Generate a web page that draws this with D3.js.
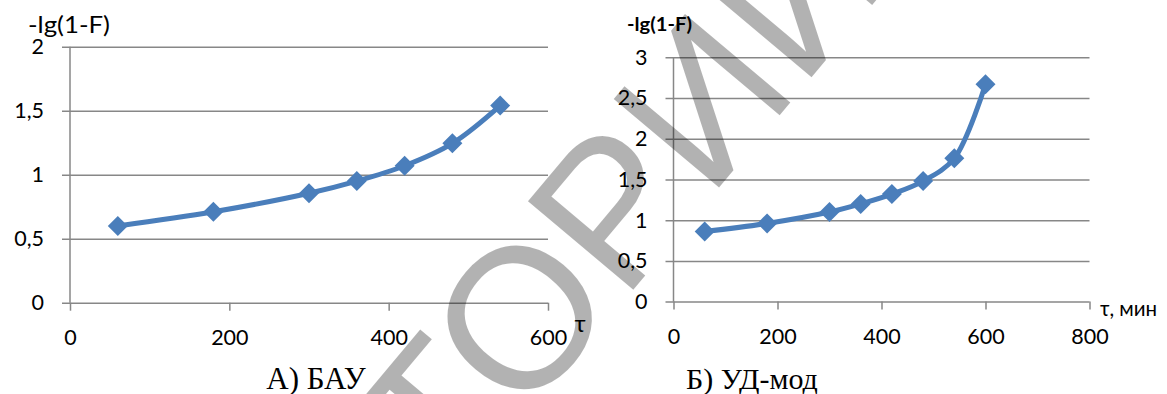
<!DOCTYPE html>
<html><head><meta charset="utf-8">
<script src="https://cdn.jsdelivr.net/npm/d3@7"></script>
<style>
html,body{margin:0;padding:0;background:#fff;}
svg{display:block;}
</style></head>
<body>
<svg id="c" width="1167" height="394"></svg>
<script>
// ---- data ----
const tauA = [60, 180, 300, 360, 420, 480, 540];
const valA = [0.60, 0.71, 0.855, 0.95, 1.07, 1.245, 1.54];
const tauB = [60, 180, 300, 360, 420, 480, 540, 600];
const valB = [0.86, 0.96, 1.10, 1.20, 1.32, 1.48, 1.76, 2.67];
const xTicksA = [0, 200, 400, 600];
const yTicksA = [0, 0.5, 1, 1.5, 2];
const xTicksB = [0, 200, 400, 600, 800];
const yTicksB = [0, 0.5, 1, 1.5, 2, 2.5, 3];
const yTitle = "-lg(1-F)";
const xTitleA = "τ";
const xTitleB = "τ, мин";
const captionA = "А) БАУ";
const captionB = "Б) УД-мод";
const watermarkPre = "РЕПОЗИ";
const watermarkPost = "ТОРИЙ";

const svg = d3.select("#c");
const SANS = "Lato, 'Open Sans', sans-serif";
const SERIF = "'Liberation Serif', 'Times New Roman', serif";
const GRID = "#878787";
const BLUE = "#4a7ebb";
const fmt = d => String(d).replace(".", ",");

function chart(o) {
  const x = d3.scaleLinear().domain(o.xd).range(o.xr);
  const y = d3.scaleLinear().domain(o.yd).range(o.yr);
  const g = svg.append("g");
  const w = o.xr[1] - o.xr[0];
  const ya = g.append("g").attr("transform", `translate(${o.xr[0]},0)`)
    .call(d3.axisLeft(y).tickValues(o.yt).tickSize(-w).tickPadding(26).tickFormat(fmt));
  ya.select(".domain").remove();
  ya.selectAll(".tick line").attr("x1", -8).attr("stroke", GRID).attr("stroke-width", 1.5);
  ya.selectAll(".tick text").attr("font-family", SANS).attr("font-size", 21.5).attr("fill", "#000");
  g.append("line").attr("x1", o.xr[0]).attr("x2", o.xr[0])
    .attr("y1", y(o.yd[0])).attr("y2", y(o.yd[1]))
    .attr("stroke", GRID).attr("stroke-width", 1.5);
  const xa = g.append("g").attr("transform", `translate(0,${y(0)})`)
    .call(d3.axisBottom(x).tickValues(o.xt).tickSize(8).tickPadding(19).tickFormat(fmt));
  xa.select(".domain").remove();
  xa.selectAll(".tick line").attr("stroke", GRID).attr("stroke-width", 1.5);
  xa.selectAll(".tick text").attr("font-family", SANS).attr("font-size", 21.5).attr("fill", "#000");
  const pts = o.xs.map((v, i) => [v, o.ys[i]]);
  g.append("path").datum(pts)
    .attr("d", d3.line().x(d => x(d[0])).y(d => y(d[1])).curve(d3.curveCatmullRom.alpha(0.5)))
    .attr("fill", "none").attr("stroke", BLUE).attr("stroke-width", 5);
  g.selectAll(".m").data(pts).join("path")
    .attr("d", d3.symbol(d3.symbolSquare, 200)())
    .attr("transform", d => `translate(${x(d[0])},${y(d[1])}) rotate(45)`)
    .attr("fill", BLUE);
  return {x, y, g};
}

chart({xd: [0, 600], xr: [70, 548], yd: [0, 2], yr: [302.7, 46.7],
  xt: xTicksA, yt: yTicksA, xs: tauA, ys: valA});
chart({xd: [0, 800], xr: [673.5, 1089.5], yd: [0, 3], yr: [301.6, 57.3],
  xt: xTicksB, yt: yTicksB, xs: tauB, ys: valB});

// axis titles
svg.append("text").attr("x", 28).attr("y", 33).attr("font-family", SANS).attr("font-size", 23)
  .attr("textLength", 82).attr("lengthAdjust", "spacingAndGlyphs").text(yTitle);
svg.append("text").attr("x", 627).attr("y", 31).attr("font-family", SANS).attr("font-size", 18)
  .attr("font-weight", 700).attr("textLength", 65).attr("lengthAdjust", "spacingAndGlyphs").text(yTitle);
svg.append("text").attr("x", 580).attr("y", 332).attr("text-anchor", "middle")
  .attr("font-family", SANS).attr("font-size", 24).text(xTitleA);
svg.append("text").attr("x", 1100).attr("y", 316)
  .attr("font-family", SANS).attr("font-size", 20.5).text(xTitleB);
// captions
svg.append("text").attr("x", 316).attr("y", 389).attr("text-anchor", "middle")
  .attr("font-family", SERIF).attr("font-size", 31).text(captionA);
svg.append("text").attr("x", 752).attr("y", 389).attr("text-anchor", "middle")
  .attr("font-family", SERIF).attr("font-size", 30).text(captionB);

// watermark
const wm = svg.append("g").attr("transform", "translate(450,508) rotate(-50)")
  .attr("font-family", "'Liberation Sans', Arial, sans-serif").attr("font-size", 200)
  .attr("fill", "#000").attr("fill-opacity", 0.3);
wm.append("text").attr("x", 0).attr("y", 0).attr("text-anchor", "end").text(watermarkPre);
wm.append("text").attr("x", 0).attr("y", 0).text(watermarkPost);
</script>
</body></html>
